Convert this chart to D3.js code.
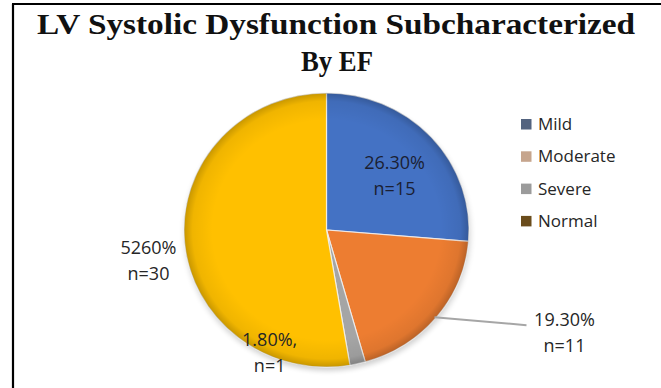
<!DOCTYPE html>
<html>
<head>
<meta charset="utf-8">
<script src="https://cdn.jsdelivr.net/npm/d3@7"></script>
<style>
  html, body { margin: 0; padding: 0; background: #fff; }
  svg { display: block; }
</style>
</head>
<body>
<svg id="chart" width="661" height="388"></svg>
<script>
// Chart data
const categories = ["Mild", "Moderate", "Severe", "Normal"];
const counts = [15, 11, 1, 30];
const percentLabels = ["26.30%", "19.30%", "1.80%,", "5260%"];
const countLabels = ["n=15", "n=11", "n=1", "n=30"];
const sliceColors = ["#4472C4", "#ED7D31", "#A5A5A5", "#FFC000"];
const legendColors = ["#53637f", "#c6a58d", "#9b9b9b", "#6a4c1c"];
const titleLines = ["LV Systolic Dysfunction Subcharacterized", "By EF"];

const W = 661, H = 388;
const svg = d3.select("#chart");

// frame lines (left and top)
svg.append("line").attr("x1", 13).attr("y1", 4).attr("x2", 13).attr("y2", H)
  .attr("stroke", "#000").attr("stroke-width", 2.2);
svg.append("line").attr("x1", 12).attr("y1", 4).attr("x2", W).attr("y2", 4)
  .attr("stroke", "#000").attr("stroke-width", 2.2);

// title
const title = svg.append("g").attr("font-family", "'Liberation Serif', 'DejaVu Serif', serif")
  .attr("font-weight", "bold").attr("font-size", 30).attr("fill", "#111").attr("text-anchor", "middle");
title.append("text").attr("x", 336).attr("y", 34).text(titleLines[0])
  .attr("textLength", 598).attr("lengthAdjust", "spacingAndGlyphs");
title.append("text").attr("x", 337).attr("y", 71).text(titleLines[1])
  .attr("textLength", 72).attr("lengthAdjust", "spacingAndGlyphs");

// pie geometry
const cx = 326.5, cy = 230, R = 142.5, yScale = 0.962;
const pie = d3.pie().sort(null).value(d => d)(counts);
const arc = d3.arc().innerRadius(0).outerRadius(R);

const defs = svg.append("defs");
const rim = defs.append("radialGradient").attr("id", "rim")
  .attr("gradientUnits", "userSpaceOnUse").attr("cx", 0).attr("cy", 0).attr("r", R);
rim.append("stop").attr("offset", "0.80").attr("stop-color", "#000").attr("stop-opacity", 0);
rim.append("stop").attr("offset", "0.94").attr("stop-color", "#000").attr("stop-opacity", 0.06);
rim.append("stop").attr("offset", "1").attr("stop-color", "#000").attr("stop-opacity", 0.22);
const shadow = defs.append("filter").attr("id", "shadow")
  .attr("x", "-20%").attr("y", "-20%").attr("width", "140%").attr("height", "140%");
shadow.append("feGaussianBlur").attr("stdDeviation", 3);

const pieG = svg.append("g").attr("transform", `translate(${cx},${cy}) scale(1,${yScale})`);
pieG.append("circle").attr("cx", 1).attr("cy", 4).attr("r", R)
  .attr("fill", "#000").attr("opacity", 0.18).attr("filter", "url(#shadow)");
pieG.selectAll("path.slice").data(pie).join("path")
  .attr("class", "slice")
  .attr("d", arc)
  .attr("fill", (d, i) => sliceColors[i])
  .attr("stroke", "#f4f4f4").attr("stroke-width", 1.2).attr("stroke-opacity", 0.8);
pieG.append("circle").attr("r", R).attr("fill", "url(#rim)");

// point on the ellipse at a given angle and radius fraction
function polar(angle, frac) {
  return [cx + Math.sin(angle) * R * frac, cy - Math.cos(angle) * R * frac * yScale];
}
const mid = d => (d.startAngle + d.endAngle) / 2;

// data labels: anchor derived from each slice's middle angle
const labelSpec = [
  { frac: 0.63, dx: 2, dy: 2, color: "#1b1f33" },
  { frac: 1.0, dx: 128, dy: 14, color: "#262626", leader: true },
  { frac: 1.0, dx: -88, dy: -13, color: "#262626" },
  { frac: 1.0, dx: -36, dy: 18, color: "#262626" }
];
const labels = svg.append("g").attr("font-family", "'Open Sans', 'Lato', sans-serif")
  .attr("font-size", 18).attr("text-anchor", "middle");
pie.forEach((d, i) => {
  const s = labelSpec[i];
  const [ax, ay] = polar(mid(d), s.frac);
  const lx = ax + s.dx, ly = ay + s.dy;
  if (s.leader) {
    labels.append("polyline")
      .attr("points", [[ax - 2, ay], [lx - 38, ly - 6]].map(p => p.join(",")).join(" "))
      .attr("fill", "none").attr("stroke", "#a6a6a6").attr("stroke-width", 2);
  }
  labels.append("text").attr("x", lx).attr("y", ly - 5).attr("fill", s.color).text(percentLabels[i]);
  labels.append("text").attr("x", lx).attr("y", ly + 21).attr("fill", s.color).text(countLabels[i]);
});

// legend
const legend = svg.append("g").attr("transform", "translate(521,119)")
  .attr("font-family", "'Open Sans', 'Lato', sans-serif").attr("font-size", 17);
const item = legend.selectAll("g").data(categories).join("g")
  .attr("transform", (d, i) => `translate(0,${i * 32.3})`);
item.append("rect").attr("width", 10.5).attr("height", 10.5)
  .attr("fill", (d, i) => legendColors[i]);
item.append("text").attr("x", 17).attr("y", 11).attr("fill", "#262626").text(d => d);
</script>
</body>
</html>
